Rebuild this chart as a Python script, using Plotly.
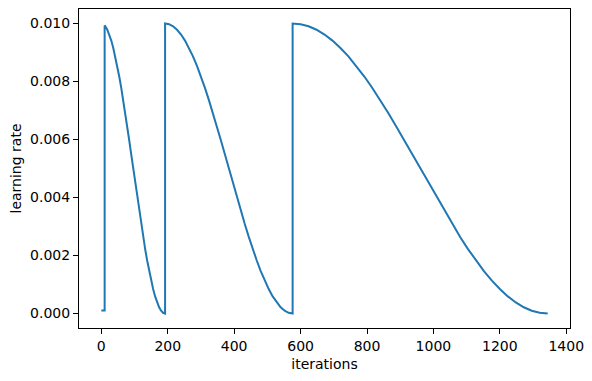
import plotly.graph_objects as go

# learning rate: warmup, then three cosine cycles (restarts at 192 and 576)
iters_warmup = [0, 10, 10]
lr_warmup = [0.0001, 0.0001, 0.00993]

iters_c1 = list(range(12, 193, 6))
lr_c1 = [0.009904, 0.009785, 0.009619, 0.009410, 0.009157, 0.008865, 0.008536, 0.008172,
         0.007778, 0.007357, 0.006913, 0.006451, 0.005975, 0.005490, 0.005000, 0.004510,
         0.004025, 0.003549, 0.003087, 0.002643, 0.002222, 0.001828, 0.001464, 0.001135,
         0.000843, 0.000590, 0.000381, 0.000215, 0.000096, 0.000024, 0.000000]

iters_c2 = list(range(192, 577, 12))
lr_c2 = [0.010000, 0.009976, 0.009904, 0.009785, 0.009619, 0.009410, 0.009157, 0.008865,
         0.008536, 0.008172, 0.007778, 0.007357, 0.006913, 0.006451, 0.005975, 0.005490,
         0.005000, 0.004510, 0.004025, 0.003549, 0.003087, 0.002643, 0.002222, 0.001828,
         0.001464, 0.001135, 0.000843, 0.000590, 0.000381, 0.000215, 0.000096, 0.000024,
         0.000000]

iters_c3 = list(range(576, 1345, 24))
lr_c3 = [0.010000, 0.009976, 0.009904, 0.009785, 0.009619, 0.009410, 0.009157, 0.008865,
         0.008536, 0.008172, 0.007778, 0.007357, 0.006913, 0.006451, 0.005975, 0.005490,
         0.005000, 0.004510, 0.004025, 0.003549, 0.003087, 0.002643, 0.002222, 0.001828,
         0.001464, 0.001135, 0.000843, 0.000590, 0.000381, 0.000215, 0.000096, 0.000024,
         0.000000]

x_ticks = [0, 200, 400, 600, 800, 1000, 1200, 1400]
y_ticks = [0.0, 0.002, 0.004, 0.006, 0.008, 0.010]

iters = iters_warmup + iters_c1 + iters_c2 + iters_c3
lr = lr_warmup + lr_c1 + lr_c2 + lr_c3

fig = go.Figure()
fig.add_trace(go.Scatter(x=iters, y=lr, mode='lines',
                         line=dict(color='#1f77b4', width=2)))

axis_style = dict(showline=True, linecolor='black', linewidth=1, mirror=True,
                  ticks='outside', ticklen=5, tickwidth=1, tickcolor='black',
                  showgrid=False, zeroline=False, automargin=False,
                  tickfont=dict(size=14))

# page body has an 8px default margin, so the figure is a bit smaller than the window
fig.update_layout(
    width=584, height=373,
    margin=dict(l=71, r=22, t=1, b=53),
    paper_bgcolor='white', plot_bgcolor='white',
    font=dict(family='DejaVu Sans', size=14, color='black'),
    showlegend=False,
    xaxis=dict(range=[-67.2, 1411.2], tickvals=x_ticks,
               title=dict(text='iterations', standoff=6, font=dict(size=14)), **axis_style),
    yaxis=dict(range=[-0.0005, 0.0105], tickvals=y_ticks, tickformat='.3f',
               title=dict(text='learning rate', standoff=8, font=dict(size=14)), **axis_style),
)

fig.write_html("out.html")
